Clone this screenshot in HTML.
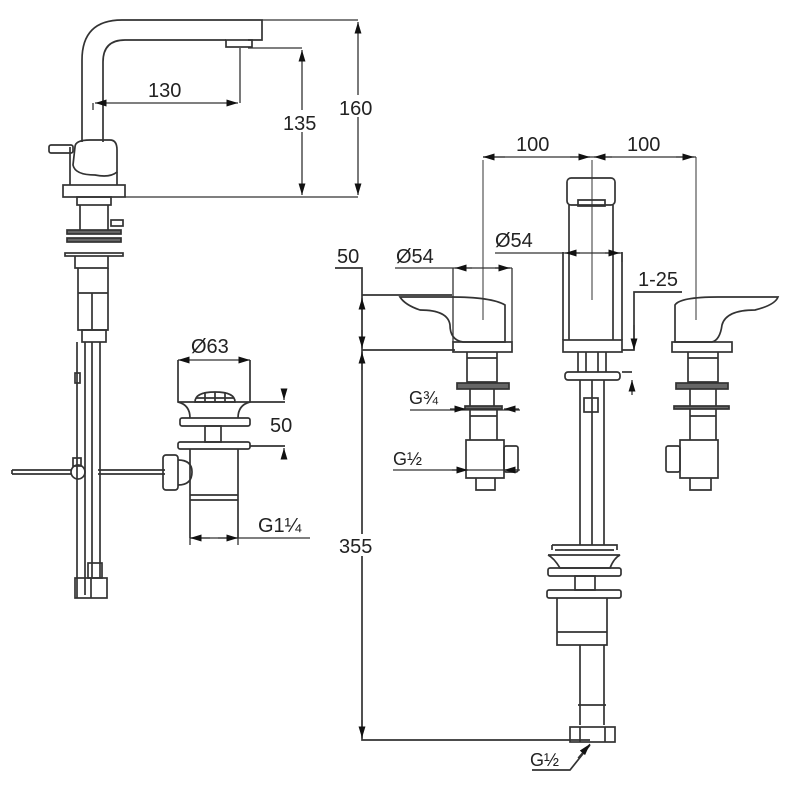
<!DOCTYPE html>
<html><head><meta charset="utf-8"><style>
html,body{margin:0;padding:0;background:#fff;width:800px;height:800px;overflow:hidden}
svg{display:block}
text{font-family:"Liberation Sans",sans-serif;font-size:20px;fill:#222}
</style></head><body>
<svg width="800" height="800" viewBox="0 0 800 800" xmlns="http://www.w3.org/2000/svg">
<defs>
<marker id="a" viewBox="0 0 10 10" refX="10" refY="5" markerWidth="9" markerHeight="9" orient="auto-start-reverse"><path d="M0,2 L10,5 L0,8z" fill="#111"/></marker>
</defs>
<g fill="none" stroke="#333" stroke-width="1.7">
<!-- LEFT FAUCET -->
<path d="M82,142 V60 Q82,20 122,20 H262 V40 H248"/>
<path d="M103,142 V62 Q103,40 125,40 H226"/>
<rect x="226" y="40" width="26" height="7"/>
<path d="M75,147 Q75,140 90,140 H110 Q117,140 117,150 V172 Q110,178 95,175 Q75,175 73,165z"/>
<path d="M70,147 V185 M117,172 V185"/>
<rect x="49" y="145" width="24" height="8" rx="2"/>
<rect x="63" y="185" width="62" height="12"/>
<rect x="77" y="197" width="34" height="8"/>
<path d="M80,205 V230 M108,205 V230"/>
<rect x="111" y="220" width="12" height="6"/>
<rect x="67" y="230" width="54" height="4" fill="#666"/>
<rect x="67" y="238" width="54" height="4" fill="#666"/>
<rect x="65" y="253" width="58" height="3"/>
<path d="M75,256 V268 H108 V256"/>
<path d="M78,268 V330 H108 V268 M78,293 H108 M92,293 V330"/>
<rect x="82" y="330" width="24" height="12"/>
<path d="M77,342 V598 M85,342 V595 M92,342 V578 M100,342 V578"/>
<rect x="75" y="373" width="5" height="10"/>
<rect x="88" y="563" width="14" height="15"/>
<rect x="75" y="578" width="32" height="20"/>
<path d="M91,578 V598"/>
<path d="M12,470 H72 M12,474 H72 M98,470 H165 M98,474 H165 M12,470 V474"/>
<circle cx="78" cy="472" r="7"/>
<rect x="73" y="458" width="8" height="8"/>
<rect x="163" y="455" width="15" height="35" rx="3"/>
<path d="M178,460 Q192,460 192,472 Q192,485 178,485"/>
<!-- drain -->
<path d="M178,360 V402 Q190,405 190,418 M250,360 V402 Q238,405 238,418"/>
<path d="M195,402 Q195,392 215,392 Q235,392 235,402z"/>
<path d="M196,398 H234 M205,392 V402 M215,392 V402 M225,392 V402"/>
<path d="M178,402 H285"/>
<rect x="180" y="418" width="70" height="8" rx="2"/>
<rect x="205" y="426" width="16" height="16"/>
<rect x="178" y="442" width="72" height="7" rx="2"/>
<path d="M250,446 H285"/>
<path d="M190,449 V538 M238,449 V538 M190,495 H238 M190,500 H238"/>
<!-- RIGHT: 355 dim -->
<path d="M335,268 H362 V740 H590"/>
<path d="M362,295 H452 M362,350 H455"/>
<!-- left handle -->
<path d="M400,297 H450 Q492,297 505,305 V342 H463 Q450,340 450,325 Q448,310 420,310 Q405,305 400,297z"/>
<rect x="453" y="342" width="59" height="10"/>
<path d="M467,352 V382 H497 V352 M467,358 H497"/>
<rect x="457" y="383" width="52" height="6" fill="#666"/>
<rect x="465" y="406" width="37" height="3" fill="#666"/>
<path d="M470,389 V406 M494,389 V406 M470,409 V440 M497,409 V440 M470,416 H497"/>
<path d="M466,440 H504 V478 H466z M476,478 V490 H495 V478"/>
<rect x="504" y="446" width="14" height="26" rx="2"/>
<path d="M483,160 V320" stroke-width="1"/>
<!-- right handle -->
<path d="M778,297 H718 Q680,297 675,305 V342 H712 Q720,340 722,325 Q726,310 755,310 Q775,305 778,297z"/>
<rect x="672" y="342" width="60" height="10"/>
<path d="M688,352 V382 H718 V352 M688,358 H718"/>
<rect x="676" y="383" width="52" height="6" fill="#666"/>
<rect x="674" y="406" width="55" height="3" fill="#666"/>
<path d="M690,389 V406 M716,389 V406 M690,409 V440 M716,409 V440 M690,416 H716"/>
<path d="M680,440 H718 V478 H680z M690,478 V490 H711 V478"/>
<rect x="666" y="446" width="14" height="26" rx="2"/>
<path d="M696,157 V320" stroke-width="1"/>
<!-- center spout -->
<rect x="567" y="178" width="48" height="27" rx="4"/>
<path d="M578,200 H605 V206 H578z"/>
<path d="M569,205 V340 M613,205 V340 M563,252 V340 M622,252 V340"/>
<path d="M592,160 V300" stroke-width="1"/>
<rect x="563" y="340" width="59" height="12"/>
<path d="M578,352 V372 M586,352 V372 M598,352 V372 M606,352 V372"/>
<rect x="565" y="372" width="55" height="8" rx="3"/>
<path d="M622,372 H632"/>
<path d="M580,380 V545 M604,380 V545 M592,380 V545"/>
<rect x="584" y="398" width="14" height="14"/>
<path d="M682,292 H634 V350 H622"/>
<!-- popup -->
<path d="M555,550 H614 M552,545 H617 V550 M552,545 V550"/>
<path d="M548,555 H620 Q614,558 610,568 H560 Q554,558 548,555"/>
<rect x="548" y="568" width="73" height="8" rx="2"/>
<rect x="575" y="576" width="20" height="14"/>
<rect x="547" y="590" width="74" height="8" rx="2"/>
<path d="M557,598 V645 H607 V598 M557,632 H607"/>
<path d="M580,645 V725 M604,645 V725 M578,705 H606"/>
<rect x="570" y="727" width="45" height="15"/>
<path d="M580,727 V742 M605,727 V742"/>
<path d="M532,770 H570 L590,745"/>
</g>
<g fill="none" stroke="#333" stroke-width="1.3">
<!-- dims -->
<path d="M262,20 H358 M125,197 H358"/>
<line x1="358" y1="22" x2="358" y2="195" marker-start="url(#a)" marker-end="url(#a)"/>
<path d="M248,48 H302"/>
<line x1="302" y1="50" x2="302" y2="195" marker-start="url(#a)" marker-end="url(#a)"/>
<path d="M240,48 V103 M93,103 V110"/>
<line x1="95" y1="103" x2="238" y2="103" marker-start="url(#a)" marker-end="url(#a)"/>
<line x1="178" y1="360" x2="198" y2="360" marker-start="url(#a)"/>
<line x1="230" y1="360" x2="250" y2="360" marker-end="url(#a)"/>
<path d="M198,360 H230"/>
<line x1="284" y1="390" x2="284" y2="400" marker-end="url(#a)"/>
<line x1="284" y1="458" x2="284" y2="448" marker-end="url(#a)"/>
<path d="M190,538 V545 M238,538 V545 M190,538 H310"/>
<line x1="190" y1="538" x2="210" y2="538" marker-start="url(#a)"/>
<line x1="218" y1="538" x2="238" y2="538" marker-end="url(#a)"/>
<line x1="362" y1="298" x2="362" y2="320" marker-start="url(#a)"/>
<line x1="362" y1="330" x2="362" y2="348" marker-end="url(#a)"/>
<line x1="362" y1="352" x2="362" y2="370" marker-start="url(#a)"/>
<line x1="362" y1="720" x2="362" y2="738" marker-end="url(#a)"/>
<path d="M483,157 H696"/>
<line x1="483" y1="157" x2="505" y2="157" marker-start="url(#a)"/>
<line x1="570" y1="157" x2="590" y2="157" marker-end="url(#a)"/>
<line x1="594" y1="157" x2="612" y2="157" marker-start="url(#a)"/>
<line x1="676" y1="157" x2="694" y2="157" marker-end="url(#a)"/>
<path d="M395,268 H512 M453,268 V342 M512,268 V342"/>
<line x1="455" y1="268" x2="472" y2="268" marker-start="url(#a)"/>
<line x1="495" y1="268" x2="510" y2="268" marker-end="url(#a)"/>
<path d="M495,253 H622 M622,253 V262"/>
<line x1="565" y1="253" x2="580" y2="253" marker-start="url(#a)"/>
<line x1="605" y1="253" x2="620" y2="253" marker-end="url(#a)"/>
<line x1="634" y1="325" x2="634" y2="350" marker-end="url(#a)"/>
<line x1="632" y1="395" x2="632" y2="380" marker-end="url(#a)"/>
<path d="M410,410 H520 M393,470 H520"/>
<line x1="450" y1="409" x2="466" y2="409" marker-end="url(#a)"/>
<line x1="519" y1="409" x2="504" y2="409" marker-end="url(#a)"/>
<line x1="452" y1="470" x2="468" y2="470" marker-end="url(#a)"/>
<line x1="519" y1="470" x2="504" y2="470" marker-end="url(#a)"/>
<line x1="578" y1="758" x2="590" y2="744" marker-end="url(#a)"/>
</g>
<g fill="#fff">
<rect x="282" y="110" width="42" height="22"/>
<rect x="338" y="95" width="42" height="22"/>
<rect x="338" y="534" width="44" height="22"/>
</g>
<text x="148" y="97">130</text>
<text x="283" y="130">135</text>
<text x="339" y="115">160</text>
<text x="191" y="353">Ø63</text>
<text x="270" y="432">50</text>
<text x="258" y="532">G1¼</text>
<text x="337" y="263">50</text>
<text x="396" y="263">Ø54</text>
<text x="495" y="247">Ø54</text>
<text x="516" y="151">100</text>
<text x="627" y="151">100</text>
<text x="638" y="286">1-25</text>
<text x="409" y="404" style="font-size:18px">G¾</text>
<text x="393" y="465" style="font-size:18px">G½</text>
<text x="339" y="553">355</text>
<text x="530" y="766" style="font-size:18px">G½</text>
</svg>
</body></html>
